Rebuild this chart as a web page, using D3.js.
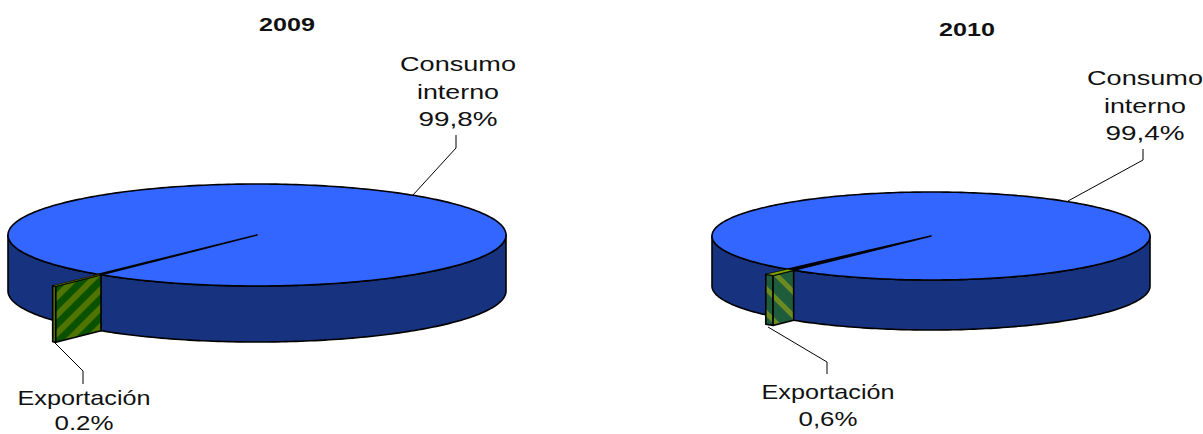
<!DOCTYPE html>
<html><head><meta charset="utf-8">
<script src="https://cdn.jsdelivr.net/npm/d3@7"></script>
<style>html,body{margin:0;background:#fff}svg{display:block}text{font-family:"Liberation Sans",Arial,sans-serif;fill:#111}</style>
</head><body><svg id="c" width="1203" height="434"></svg>
<script>
const categories = ["Consumo interno", "Exportación"];
const years = ["2009", "2010"];
const values2009 = [99.8, 0.2];
const values2010 = [99.4, 0.6];
const labels2009 = ["99,8%", "0.2%"];
const labels2010 = ["99,4%", "0,6%"];

const svg = d3.select("#c");
const defs = svg.append("defs");
function stripes(id, bg, fg, rot, period, w){
  const p = defs.append("pattern").attr("id",id).attr("patternUnits","userSpaceOnUse")
    .attr("width",period).attr("height",period).attr("patternTransform",`rotate(${rot})`);
  p.append("rect").attr("width",period).attr("height",period).attr("fill",bg);
  p.append("rect").attr("width",period).attr("height",w).attr("fill",fg);
}
stripes("s0","#0a5200","#4f7400",-45,13,6);
stripes("s1","#1f5c3c","#6b8a22",45,17,5);

const STEPS = 160;
function pieChart(o){
  const x = d3.scaleLinear().domain([-1,1]).range([o.cx-o.rx,o.cx+o.rx]);
  const y = d3.scaleLinear().domain([-1,1]).range([o.cy-o.ry,o.cy+o.ry]);
  // d3.pie angle: 0 = up, clockwise; the export slice starts where the rim is cut
  const arcs = d3.pie().sort(null).startAngle(o.start).endAngle(o.start+2*Math.PI)(o.values);
  const exp = arcs[1];
  const P = (a,r=1,dz=0)=>[x(r*Math.sin(a)), y(-r*Math.cos(a))+dz];
  const line = d3.line();
  const g = svg.append("g");
  const edge = {stroke:"#000","stroke-width":1.6,"stroke-linejoin":"round"};
  const sty = (s,a)=>{Object.entries({...edge,...a}).forEach(([k,v])=>s.attr(k,v));return s;};
  // wall of the disc: front half
  const front = d3.range(STEPS+1).map(i=>Math.PI/2+i/STEPS*Math.PI);
  const wall = [...front.map(a=>P(a)),...front.slice().reverse().map(a=>P(a,1,o.depth))];
  sty(g.append("path").attr("d",line(wall)+"Z"),{fill:"#17327e"});
  // top of the disc
  const full = d3.range(STEPS*2).map(i=>i/(STEPS*2)*2*Math.PI);
  sty(g.append("path").attr("d",line(full.map(a=>P(a)))+"Z"),{fill:"#3366ff"});
  // the thin slice across the top, from centre to rim
  sty(g.append("path").attr("d",line([[x(0),y(0)],P(exp.startAngle),P(exp.endAngle)])+"Z"),{fill:"#000"});
  // exploded slice: cut face, outer face, top
  const a0=exp.startAngle,a1=exp.endAngle,E=o.explode;
  const outer=[P(a0,E),P(a1,E),P(a1,E,o.depth),P(a0,E,o.depth)];
  const face=[P(a0,1),P(a0,E),P(a0,E,o.depth),P(a0,1,o.depth)];
  const top=[P(a0,1),P(a1,1),P(a1,E),P(a0,E)];
  sty(g.append("path").attr("d",line(outer)+"Z"),{fill:o.stripe==="s0"?"#4f7400":"url(#"+o.stripe+")"});
  sty(g.append("path").attr("d",line(face)+"Z"),{fill:`url(#${o.stripe})`});
  sty(g.append("path").attr("d",line(top)+"Z"),{fill:"#86a800","stroke-width":.7});
  // title
  g.append("text").attr("x",o.title[0]).attr("y",o.title[1]).attr("text-anchor","middle")
    .attr("font-size",19).attr("font-weight","bold").attr("textLength",o.title[2]).attr("lengthAdjust","spacingAndGlyphs").text(o.year);
  // labels
  function lab(lines,cx,y0,lh,widths){
    lines.forEach((t,i)=>g.append("text").attr("x",cx).attr("y",y0+i*lh).attr("text-anchor","middle")
      .attr("font-size",21).attr("textLength",widths[i]).attr("lengthAdjust","spacingAndGlyphs").text(t));
  }
  lab(o.l1,o.l1x,o.l1y,27.5,[116,82,79]);
  lab(o.l2,o.l2x,o.l2y,o.l2lh,[133,59]);
  // leaders
  const thin={fill:"none","stroke-width":1};
  sty(g.append("path").attr("d",line(o.lead1)),thin);
  sty(g.append("path").attr("d",line(o.lead2)),thin);
}
// d3.pie angle of the rim cut: picture direction sin=-0.63, -cos=0.784
const cut2009 = Math.PI + Math.atan2(0.63,0.784);
const cut2010 = Math.PI + Math.atan2(0.62,0.77);
pieChart({year:years[0],values:values2009,cx:257,cy:235,rx:249,ry:51,depth:56,explode:1.29,
  start:cut2009 - 2*Math.PI*values2009[0]/100, stripe:"s0", title:[287,31,56],
  l1:["Consumo","interno",labels2009[0]],l1x:458,l1y:71,
  l2:[categories[1],labels2009[1]],l2x:84,l2y:405,l2lh:24.5,
  lead1:[[456,135],[456,148],[413,195]],lead2:[[83,384],[83,371],[54,342]]});
pieChart({year:years[1],values:values2010,cx:931,cy:236,rx:219,ry:44,depth:50,explode:1.15,
  start:cut2010 - 2*Math.PI*values2010[0]/100, stripe:"s1", title:[967,36,56],
  l1:["Consumo","interno",labels2010[0]],l1x:1145,l1y:85,
  l2:[categories[1],labels2010[1]],l2x:828,l2y:399,l2lh:27,
  lead1:[[1143,149],[1143,160],[1068,201]],lead2:[[827,374],[827,362],[768,327]]});
</script></body></html>
